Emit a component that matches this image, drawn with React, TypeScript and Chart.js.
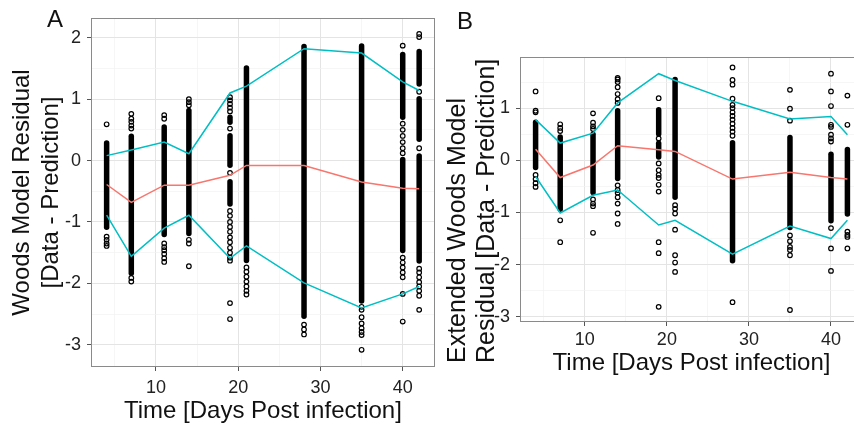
import { useEffect, useRef } from 'react';
import { Chart, registerables } from 'chart.js';

Chart.register(...registerables);

// ---------- data ----------
const days = [4, 7, 11, 14, 19, 21, 28, 35, 40, 42];

// Panel A: Woods model residuals
const upperA = [0.08, 0.17, 0.3, 0.11, 1.1, 1.21, 1.82, 1.75, 1.28, 1.14];
const medianA = [-0.39, -0.68, -0.4, -0.4, -0.24, -0.08, -0.08, -0.35, -0.45, -0.46];
const lowerA = [-0.89, -1.56, -1.1, -0.89, -1.59, -1.39, -1.99, -2.4, -2.17, -2.05];

// dense runs of overlapping residual points: [day, low, high]
const denseA: [number, number, number][] = [
  [4, -1.13, 0.33],
  [7, -1.88, 0.44],
  [11, -1.25, 0.59],
  [14, -1.23, 0.86],
  [19, 0.58, 0.75],
  [19, -0.12, 0.45],
  [19, -0.75, -0.3],
  [21, -1.67, 1.55],
  [28, -2.58, 1.9],
  [35, -2.33, 1.91],
  [40, 0.66, 1.77],
  [40, -1.51, 0.06],
  [42, 1.2, 1.82],
  [42, 0.3, 1.05],
  [42, -1.68, 0.12],
];

// individually visible residual points, one list per day
const pointsA: number[][] = [
  [0.59, -1.24, -1.29, -1.35, -1.39],
  [0.76, 0.68, 0.63, 0.57, 0.52, -1.91, -1.97],
  [0.74, 0.68, -1.35, -1.41, -1.46, -1.52, -1.59, -1.65],
  [1.0, 0.95, 0.9, -1.29, -1.35, -1.72],
  [1.03, 0.98, 0.92, 0.86, 0.8, 0.52, -0.2, -0.82, -0.9, -1.0, -1.08, -1.16, -1.25, -1.33, -1.42, -1.5, -1.58, -1.63, -2.32, -2.58],
  [-1.74, -1.81, -1.89, -1.97, -2.05, -2.12, -2.18],
  [-2.67, -2.75, -2.83],
  [-2.38, -2.43, -2.55, -2.65, -2.73, -2.79, -2.84, -3.08],
  [1.87, 0.6, 0.5, 0.4, 0.3, 0.2, 0.12, -1.58, -1.66, -1.74, -1.82, -1.9, -2.17, -2.62],
  [2.06, 2.01, 1.12, 0.2, -1.76, -1.82, -1.9, -1.98, -2.05, -2.12, -2.2, -2.43],
];

// Panel B: Extended Woods model residuals
const upperB = [0.78, 0.33, 0.52, 1.1, 1.66, 1.53, 1.13, 0.79, 0.84, 0.49];
const medianB = [0.21, -0.33, -0.09, 0.28, 0.2, 0.17, -0.36, -0.23, -0.33, -0.36];
const lowerB = [-0.31, -1.01, -0.67, -0.57, -1.24, -1.15, -1.8, -1.26, -1.5, -1.15];

const denseB: [number, number, number][] = [
  [4, -0.19, 0.78],
  [7, -0.99, 0.5],
  [11, -0.67, 0.55],
  [14, -0.4, 1.0],
  [19, 0.45, 1.02],
  [19, 0.0, 0.38],
  [21, -0.76, 1.6],
  [28, -1.98, 0.39],
  [35, -1.34, 0.49],
  [40, -1.21, 0.17],
  [42, -1.08, 0.26],
];

const pointsB: number[][] = [
  [1.32, 0.95, 0.92, -0.28, -0.36, -0.44, -0.51],
  [0.69, 0.62, 0.56, -1.15, -1.57],
  [0.9, 0.72, 0.65, 0.6, -0.75, -0.83, -0.88, -1.39],
  [1.58, 1.55, 1.5, 1.4, 1.27, 1.17, 1.1, -0.48, -0.57, -0.62, -0.71, -0.83, -1.02, -1.22],
  [1.19, 0.42, -0.06, -0.19, -0.28, -0.34, -0.47, -0.6, -1.57, -1.78, -2.81],
  [-0.86, -0.93, -1.02, -1.33, -1.82, -1.96, -2.14],
  [1.78, 1.54, 1.45, 1.18, 1.06, 1.0, 0.92, 0.85, 0.78, 0.7, 0.62, 0.55, 0.47, -2.72],
  [1.35, 0.99, 0.76, -1.44, -1.55, -1.66, -1.72, -1.82, -2.87],
  [1.66, 1.32, 1.04, 0.68, 0.64, 0.49, 0.42, 0.36, -1.3, -1.69, -2.12],
  [1.24, 0.68, -1.37, -1.43, -1.47, -1.69],
];

// axes
const xMajor = [10, 20, 30, 40];
const xMinor = [5, 15, 25, 35];
const xRange = [2.1, 43.9];
const yMajorA = [-3, -2, -1, 0, 1, 2];
const yMinorA = [-2.5, -1.5, -0.5, 0.5, 1.5];
const yRangeA = [-3.36, 2.32];
const yMajorB = [-3, -2, -1, 0, 1];
const yMinorB = [-2.5, -1.5, -0.5, 0.5, 1.5];
const yRangeB = [-3.1, 1.98];

const xTitle = 'Time [Days Post infection]';
const yTitleA = ['Woods Model Residual', '[Data - Prediction]'];
const yTitleB = ['Extended Woods Model', 'Residual [Data - Prediction]'];

// ---------- styling ----------
const FAMILY = '"Liberation Sans", Arial, Helvetica, sans-serif';
const CYAN = '#00BFC4';
const RED = '#F8766D';

const panelDecor = {
  id: 'panelDecor',
  afterDatasetsDraw(chart: any) {
    const { ctx, chartArea: a } = chart;
    ctx.save();
    ctx.strokeStyle = '#8a8a8a';
    ctx.lineWidth = 1;
    ctx.strokeRect(Math.round(a.left) + 0.5, Math.round(a.top) + 0.5, Math.round(a.right - a.left) - 1, Math.round(a.bottom - a.top) - 1);
    ctx.restore();
  },
  afterDraw(chart: any, _args: any, opts: any) {
    const { ctx, chartArea: a } = chart;
    ctx.save();
    ctx.fillStyle = '#111';
    ctx.font = `${opts.tagSize}px ${FAMILY}`;
    ctx.textAlign = 'left';
    ctx.textBaseline = 'alphabetic';
    ctx.fillText(opts.tag, opts.tagX, opts.tagY);
    ctx.font = `${opts.titleSize}px ${FAMILY}`;
    const anchorY = opts.titleAlign === 'center' ? (a.top + a.bottom) / 2 : opts.titleStartY;
    ctx.translate(opts.titleX, anchorY);
    ctx.rotate(-Math.PI / 2);
    ctx.textAlign = opts.titleAlign === 'center' ? 'center' : 'left';
    ctx.textBaseline = 'middle';
    opts.lines.forEach((t: string, i: number) => ctx.fillText(t, 0, i * opts.lineHeight));
    ctx.restore();
  },
};

interface PanelSpec {
  upper: number[];
  median: number[];
  lower: number[];
  dense: [number, number, number][];
  points: number[][];
  yMajor: number[];
  yMinor: number[];
  yRange: number[];
  yTitle: string[];
  tag: string;
  layout: {
    width: number;
    padTop: number;
    padRight: number;
    padBottom: number;
    yAxisWidth: number;
    xAxisHeight: number;
    xTickPad: number;
    tagX: number;
    tagY: number;
    titleX: number;
    titleSize: number;
    lineHeight: number;
    titleAlign: string;
    titleStartY: number;
  };
}

function buildConfig(p: PanelSpec): any {
  const L = p.layout;
  const lineDs = (vals: number[], color: string) => ({
    type: 'line',
    data: days.map((d, i) => ({ x: d, y: vals[i] })),
    borderColor: color,
    borderWidth: 1.5,
    pointRadius: 0,
    fill: false,
    tension: 0,
  });
  const pts: { x: number; y: number }[] = [];
  p.points.forEach((arr, i) => arr.forEach((v) => pts.push({ x: days[i], y: v })));
  const bars = p.dense.map(([d, lo, hi]) => ({ x: d, y: [lo, hi] }));
  const xTicks = [...xMinor, ...xMajor].sort((a, b) => a - b);
  const yTicks = [...p.yMinor, ...p.yMajor].sort((a, b) => a - b);
  const isMajX = (v: number) => xMajor.includes(v);
  const isMajY = (v: number) => p.yMajor.includes(v);
  const tickFont = { family: FAMILY, size: 18 };

  return {
    type: 'scatter',
    data: {
      datasets: [
        lineDs(p.upper, CYAN),
        lineDs(p.median, RED),
        lineDs(p.lower, CYAN),
        {
          type: 'scatter',
          data: pts,
          pointRadius: 2.3,
          pointBorderWidth: 1.2,
          pointBorderColor: '#000',
          pointBackgroundColor: 'rgba(0,0,0,0)',
        },
        {
          type: 'bar',
          data: bars,
          backgroundColor: '#000',
          barThickness: 5.5,
          inflateAmount: 0,
          borderRadius: 3,
          borderSkipped: false,
        },
      ],
    },
    options: {
      responsive: false,
      animation: false,
      devicePixelRatio: 1,
      layout: { padding: { left: 0, right: L.padRight, top: L.padTop, bottom: L.padBottom } },
      plugins: {
        legend: { display: false },
        tooltip: { enabled: false },
        panelDecor: {
          tag: p.tag,
          tagSize: 24,
          tagX: L.tagX,
          tagY: L.tagY,
          lines: p.yTitle,
          titleX: L.titleX,
          titleSize: L.titleSize,
          lineHeight: L.lineHeight,
          titleAlign: L.titleAlign,
          titleStartY: L.titleStartY,
        },
      },
      scales: {
        x: {
          type: 'linear',
          min: xRange[0],
          max: xRange[1],
          offset: false,
          afterBuildTicks: (s: any) => {
            s.ticks = xTicks.map((v) => ({ value: v }));
          },
          afterFit: (s: any) => {
            s.height = L.xAxisHeight;
          },
          ticks: {
            autoSkip: false,
            maxRotation: 0,
            padding: L.xTickPad,
            font: tickFont,
            color: '#222',
            callback: (v: number) => (isMajX(v) ? String(v) : ''),
          },
          grid: {
            offset: false,
            color: (c: any) => (isMajX(c.tick?.value) ? '#e4e4e4' : '#f2f2f2'),
            lineWidth: (c: any) => (isMajX(c.tick?.value) ? 1 : 0.7),
            tickColor: (c: any) => (isMajX(c.tick?.value) ? '#555' : 'rgba(0,0,0,0)'),
            tickLength: 4,
            drawTicks: true,
          },
          border: { display: false },
          title: {
            display: true,
            text: xTitle,
            color: '#111',
            font: { family: FAMILY, size: 24 },
            padding: { top: 0, bottom: 0 },
          },
        },
        y: {
          type: 'linear',
          min: p.yRange[0],
          max: p.yRange[1],
          afterBuildTicks: (s: any) => {
            s.ticks = yTicks.map((v) => ({ value: v }));
          },
          afterFit: (s: any) => {
            s.width = L.yAxisWidth;
          },
          ticks: {
            autoSkip: false,
            padding: 6,
            font: tickFont,
            color: '#222',
            callback: (v: number) => (isMajY(v) ? String(v) : ''),
          },
          grid: {
            color: (c: any) => (isMajY(c.tick?.value) ? '#e4e4e4' : '#f2f2f2'),
            lineWidth: (c: any) => (isMajY(c.tick?.value) ? 1 : 0.7),
            tickColor: (c: any) => (isMajY(c.tick?.value) ? '#555' : 'rgba(0,0,0,0)'),
            tickLength: 4,
            drawTicks: true,
          },
          border: { display: false },
          title: { display: false },
        },
      },
    },
    plugins: [panelDecor],
  };
}

const panelA: PanelSpec = {
  upper: upperA,
  median: medianA,
  lower: lowerA,
  dense: denseA,
  points: pointsA,
  yMajor: yMajorA,
  yMinor: yMinorA,
  yRange: yRangeA,
  yTitle: yTitleA,
  tag: 'A',
  layout: {
    width: 440,
    padTop: 18,
    padRight: 4,
    padBottom: 3.6,
    yAxisWidth: 91,
    xAxisHeight: 58.4,
    xTickPad: 6,
    tagX: 47,
    tagY: 27,
    titleX: 22,
    titleSize: 24,
    lineHeight: 29,
    titleAlign: 'center',
    titleStartY: 0,
  },
};

const panelB: PanelSpec = {
  upper: upperB,
  median: medianB,
  lower: lowerB,
  dense: denseB,
  points: pointsB,
  yMajor: yMajorB,
  yMinor: yMinorB,
  yRange: yRangeB,
  yTitle: yTitleB,
  tag: 'B',
  layout: {
    width: 440,
    padTop: 57,
    padRight: 17,
    padBottom: 51.6,
    yAxisWidth: 80,
    xAxisHeight: 55.4,
    xTickPad: 3,
    tagX: 17,
    tagY: 29,
    titleX: 18,
    titleSize: 25,
    lineHeight: 29,
    titleAlign: 'start',
    titleStartY: 363,
  },
};

function Panel({ spec, left }: { spec: PanelSpec; left: number }) {
  const ref = useRef<HTMLCanvasElement | null>(null);
  useEffect(() => {
    if (!ref.current) return;
    const chart = new Chart(ref.current, buildConfig(spec));
    return () => chart.destroy();
  }, [spec]);
  return (
    <canvas
      ref={ref}
      width={spec.layout.width}
      height={429}
      style={{ position: 'absolute', left, top: 0, width: spec.layout.width, height: 429 }}
    />
  );
}

export default function App() {
  return (
    <div
      style={{
        position: 'absolute',
        left: 0,
        top: 0,
        width: 854,
        height: 429,
        overflow: 'hidden',
        background: '#fff',
      }}
    >
      <Panel spec={panelA} left={0} />
      <Panel spec={panelB} left={440} />
    </div>
  );
}
